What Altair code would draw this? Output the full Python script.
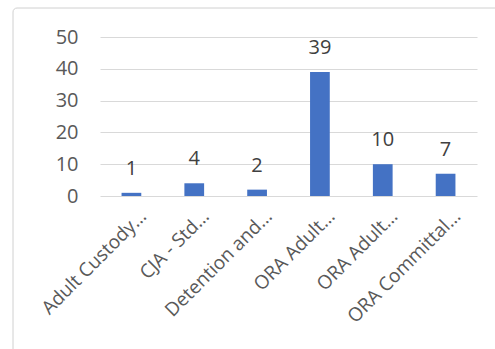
import altair as alt
import pandas as pd

labels = ["Adult Custody…", "CJA - Std…", "Detention and…", "ORA Adult…", "ORA Adult…", "ORA Committal…"]
values = [1, 4, 2, 39, 10, 7]
idx = list(range(len(labels)))

df = pd.DataFrame({"i": idx, "label": labels, "value": values})

label_expr = "[" + ",".join("'" + l + "'" for l in labels) + "][datum.value]"

x_enc = alt.X("i:O", title=None,
              scale=alt.Scale(paddingInner=0.686, paddingOuter=0.343),
              axis=alt.Axis(labelExpr=label_expr, labelAngle=-45, labelAlign="right",
                            labelBaseline="alphabetic", labelOffset=16, labelPadding=21,
                            labelFontSize=19, labelColor="#595959", labelFont="Open Sans",
                            domain=False, ticks=False, grid=False))
y_enc = alt.Y("value:Q", title=None,
              scale=alt.Scale(domain=[0, 50], nice=False),
              axis=alt.Axis(values=[0, 10, 20, 30, 40, 50], labelFontSize=20,
                            labelColor="#595959", labelFont="Open Sans", labelPadding=22,
                            domain=False, ticks=False, gridColor="#d9d9d9", gridWidth=1))

base = alt.Chart(df)

border = base.mark_rect(fill=None, stroke="#d0d0d0", strokeWidth=1, cornerRadius=4).encode(
    x=alt.value(-87), x2=alt.value(520), y=alt.value(-29), y2=alt.value(420)
).transform_filter("datum.i == 0")

bars = base.mark_bar(color="#4472C4").encode(x=x_enc, y=y_enc)
text = base.mark_text(dy=-18, baseline="alphabetic", fontSize=20, color="#404040",
                      font="Open Sans").encode(x=x_enc, y=y_enc, text="value:Q")

chart = alt.layer(border, bars, text).properties(
    width=377, height=159,
    autosize=alt.AutoSizeParams(type="none"),
    padding={"left": 100, "top": 37, "right": 18, "bottom": 153},
    background="white",
).configure_view(stroke=None)

chart.save("out.html", embed_options={"renderer": "svg", "actions": False})
